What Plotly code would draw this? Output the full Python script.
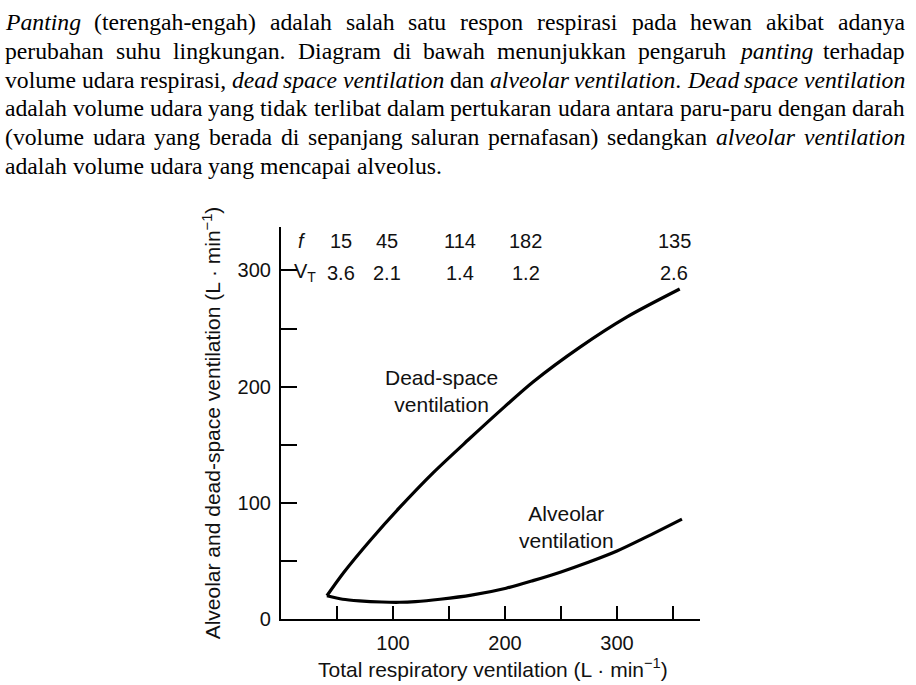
import plotly.graph_objects as go

# ---------------- data ----------------
total_vent_dead = [41, 56, 80, 106, 136, 167, 200, 225, 267, 309, 356]
dead_space_vent = [20, 40, 68, 96, 126, 154, 183, 204, 234, 260, 284]

total_vent_alv = [41, 55, 70, 90, 106, 120, 142, 170, 201, 225, 250, 275, 300, 325, 358]
alveolar_vent = [20, 17, 15.6, 14.6, 14.4, 15, 17, 20.5, 26.5, 33, 40.5, 49, 58.5, 70, 86]

freq_f = [15, 45, 114, 182, 135]
tidal_vt = ["3.6", "2.1", "1.4", "1.2", "2.6"]

x_tickvals = [100, 200, 300]
x_ticktext = ["100", "200", "300"]
y_tickvals = [0, 100, 200, 300]
y_ticktext = ["0", "100", "200", "300"]
minor_step = 50

paragraph_lines = [
    "*Panting* (terengah-engah) adalah salah satu respon respirasi pada hewan akibat adanya",
    "perubahan suhu lingkungan. Diagram di bawah menunjukkan pengaruh *panting* terhadap",
    "volume udara respirasi, *dead* *space* *ventilation* dan *alveolar* *ventilation*. *Dead* *space* *ventilation*",
    "adalah volume udara yang tidak terlibat dalam pertukaran udara antara paru-paru dengan darah",
    "(volume udara yang berada di sepanjang saluran pernafasan) sedangkan *alveolar* *ventilation*",
    "adalah volume udara yang mencapai alveolus.",
]
justified = [True, True, True, True, True, False]

# ---------------- layout constants ----------------
W, H = 916, 685


def py(t):
    # vertical pixel placement correction observed in the renderer
    return (t + 3.3) / 0.9908


X0_PX, X1_PX = 281, 700
Y0_PX, Y1_PX = 620, 225
PX_PER_X = 1.12
PX_PER_Y = 1.17
X_MAX = (X1_PX - X0_PX) / PX_PER_X
Y_MAX = (Y0_PX - Y1_PX) / PX_PER_Y

TEXT_LEFT, TEXT_RIGHT = 5, 905
BASE0, LINE_H = 26.6, 29.1

# Times / Liberation Serif metrics (1/1000 em)
REG = dict(a=444, b=500, c=444, d=500, e=444, f=333, g=500, h=500, i=278, j=278, k=500, l=278,
           m=778, n=500, o=500, p=500, q=500, r=333, s=389, t=278, u=500, v=500, w=722, x=500,
           y=500, z=444)
REG.update({'P': 556, 'D': 722, '(': 333, ')': 333, ',': 250, '.': 250, '-': 333, ' ': 250})
ITA = dict(a=500, b=500, c=444, d=500, e=444, f=278, g=500, h=500, i=278, j=278, k=444, l=278,
           m=722, n=500, o=500, p=500, q=500, r=389, s=389, t=278, u=500, v=444, w=667, x=444,
           y=444, z=389)
ITA.update({'P': 611, 'D': 722, '.': 250, ',': 250, ' ': 250, '-': 333})


def parse_word(tok):
    segs = tok.split('*')
    width = 0
    html = ""
    for k, s in enumerate(segs):
        if not s:
            continue
        table = ITA if k % 2 == 1 else REG
        width += sum(table.get(ch, 500) for ch in s)
        html += f"<i>{s}</i>" if k % 2 == 1 else s
    return width, html


tight = paragraph_lines[3].split(' ')
tight_units = sum(parse_word(t)[0] for t in tight) + 250 * (len(tight) - 1)
FS = (TEXT_RIGHT - TEXT_LEFT) / tight_units * 1000

annotations = []
for li, line in enumerate(paragraph_lines):
    toks = line.split(' ')
    parsed = [parse_word(t) for t in toks]
    widths = [p[0] * FS / 1000 for p in parsed]
    if justified[li] and len(toks) > 1:
        gap = (TEXT_RIGHT - TEXT_LEFT - sum(widths)) / (len(toks) - 1)
    else:
        gap = 250 * FS / 1000
    base = BASE0 + LINE_H * li
    yc = py(base - 0.3375 * FS)
    xpos = TEXT_LEFT
    for (u, html), wpx in zip(parsed, widths):
        annotations.append(dict(
            text=html, xref="paper", yref="paper", x=xpos / W, y=1 - yc / H,
            xanchor="left", yanchor="middle", showarrow=False, borderpad=0, borderwidth=0,
            font=dict(family="Liberation Serif", size=FS, color="#000000")))
        xpos += wpx + gap

SANS = "Liberation Sans"
chart_font = dict(family=SANS, size=20, color="#111111")
label_font = dict(family=SANS, size=21, color="#111111")

# f and V_T rows
annotations.append(dict(text="<i>f</i>", x=19, y=325, xref="x", yref="y", showarrow=False,
                        font=chart_font))
annotations.append(dict(text="V<sub>T</sub>", x=21, y=298, xref="x", yref="y", showarrow=False,
                        font=chart_font))
for f, vt in zip(freq_f, tidal_vt):
    xv = f * float(vt)
    annotations.append(dict(text=str(f), x=xv, y=325, xref="x", yref="y", showarrow=False,
                            font=chart_font))
    annotations.append(dict(text=vt, x=xv, y=298, xref="x", yref="y", showarrow=False,
                            font=chart_font))

annotations.append(dict(text="Dead-space<br>ventilation", x=143.7, y=196, xref="x", yref="y",
                        showarrow=False, font=label_font))
annotations.append(dict(text="Alveolar<br>ventilation", x=255, y=79, xref="x", yref="y",
                        showarrow=False, font=label_font))

title_font = dict(family=SANS, size=21, color="#111111")
annotations.append(dict(text="Total respiratory ventilation (L · min<sup>−1</sup>)",
                        xref="paper", yref="paper", x=493 / W, y=1 - py(669) / H,
                        xanchor="center", yanchor="middle", showarrow=False, font=title_font))
annotations.append(dict(text="Alveolar and dead-space ventilation (L · min<sup>−1</sup>)",
                        xref="paper", yref="paper", x=212 / W, y=1 - py(423) / H, textangle=-90,
                        xanchor="center", yanchor="middle", showarrow=False, font=title_font))

fig = go.Figure()
fig.add_trace(go.Scatter(x=total_vent_dead, y=dead_space_vent, mode="lines",
                         line=dict(color="black", width=3.2, shape="spline", smoothing=0.8),
                         hoverinfo="skip", showlegend=False))
fig.add_trace(go.Scatter(x=total_vent_alv, y=alveolar_vent, mode="lines",
                         line=dict(color="black", width=3.2, shape="spline", smoothing=0.8),
                         hoverinfo="skip", showlegend=False))

fig.update_layout(
    width=W, height=H,
    margin=dict(l=0, r=0, t=0, b=0),
    paper_bgcolor="white", plot_bgcolor="white",
    annotations=annotations,
    xaxis=dict(domain=[X0_PX / W, X1_PX / W], range=[0, X_MAX], showgrid=False, zeroline=False,
               showline=True, linecolor="black", linewidth=2.2, ticks="inside", ticklen=13,
               tickwidth=1.6, tickcolor="black", tickvals=x_tickvals, ticktext=x_ticktext,
               minor=dict(ticks="inside", ticklen=13, tickwidth=1.6, tickcolor="black",
                          dtick=minor_step, tick0=0, showgrid=False),
               tickfont=chart_font, ticklabelstandoff=5, fixedrange=True),
    yaxis=dict(domain=[1 - py(Y0_PX) / H, 1 - py(Y1_PX) / H], range=[0, Y_MAX], showgrid=False,
               zeroline=False, showline=True, linecolor="black", linewidth=2.2, ticks="inside",
               ticklen=16, tickwidth=1.6, tickcolor="black", tickvals=y_tickvals,
               ticktext=y_ticktext,
               minor=dict(ticks="inside", ticklen=16, tickwidth=1.6, tickcolor="black",
                          dtick=minor_step, tick0=0, showgrid=False),
               tickfont=chart_font, ticklabelstandoff=4, fixedrange=True),
)

fig.write_html("out.html", config={"displayModeBar": False},
               post_script="document.body.style.margin='0';")
